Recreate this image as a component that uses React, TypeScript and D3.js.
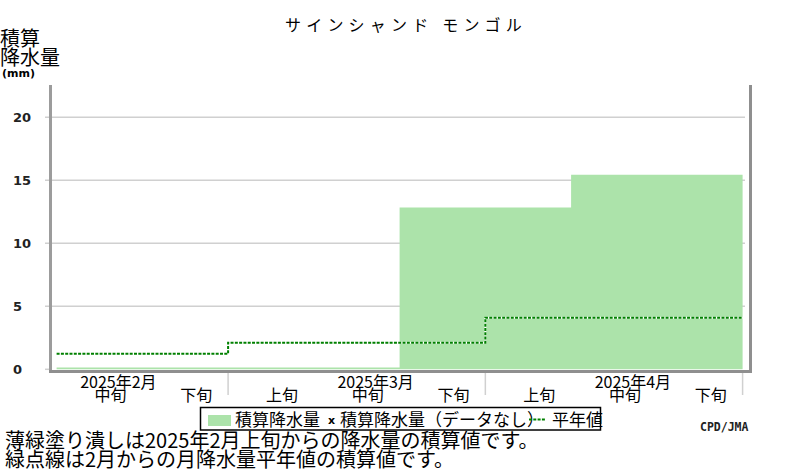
import * as d3 from 'd3';
import React from 'react';

// decade (旬) labels from 2025年2月中旬 to 2025年4月下旬
const decadeLabels = ['中旬', '下旬', '上旬', '中旬', '下旬', '上旬', '中旬', '下旬'];
const monthLabels = ['2025年2月', '2025年3月', '2025年4月'];
// index of the 中旬 decade for each month label
const monthMidIdx = [0, 3, 6];
// month boundaries (decade index)
const monthTicks = [2, 5, 8];

// accumulated precipitation (mm) per decade
const accumPrecip = [0.15, 0.15, 0.15, 0.15, 12.85, 12.85, 15.45, 15.45];

// accumulated monthly normal (mm): start decade index and value
const normalStart = [0, 2, 5];
const normalValue = [1.24, 2.11, 4.1];

const yTicks = [0, 5, 10, 15, 20];

const JP = '"Noto Sans CJK JP", "Noto Sans", sans-serif';

const App: React.FC = () => {
    const x = d3.scaleLinear().domain([0, 8]).range([56.6, 742.6]);
    const y = d3.scaleLinear().domain([0, 20]).range([369.3, 117.3]);
    const plotTop = 85;

    const areaPts: [number, number][] = accumPrecip.map((v, i) => [i, v] as [number, number]);
    areaPts.push([8, accumPrecip[accumPrecip.length - 1]]);
    const area = d3.area<[number, number]>()
        .curve(d3.curveStepAfter)
        .x(d => x(d[0]))
        .y0(y(0))
        .y1(d => y(d[1]));

    const normPts: [number, number][] = normalStart.map((s, i) => [s, normalValue[i]] as [number, number]);
    normPts.push([8, normalValue[normalValue.length - 1]]);
    const line = d3.line<[number, number]>()
        .curve(d3.curveStepAfter)
        .x(d => x(d[0]))
        .y(d => y(d[1]));

    return (
        <div style={{ position: 'absolute', left: 0, top: 0 }}>
            <svg width={800} height={470} style={{ display: 'block', background: '#fff' }}>
                {/* title */}
                <text x={285} y={31} fontFamily={JP} fontSize={16} letterSpacing={5.2}>
                    サインシャンド モンゴル
                </text>

                {/* y-axis label */}
                <text x={0} y={46} fontFamily={JP} fontSize={20}>積算</text>
                <text x={0} y={65} fontFamily={JP} fontSize={20}>降水量</text>
                <text x={2} y={77} fontFamily="DejaVu Sans" fontWeight="bold" fontSize={11}>(mm)</text>

                {/* grid */}
                {yTicks.map(t => (
                    <g key={t}>
                        <line x1={45} x2={t === 0 ? 50 : 745} y1={y(t)} y2={y(t)} stroke="#d0d0d0" strokeWidth={1.5} />
                        <text x={13} y={y(t) + 5} fontFamily="DejaVu Sans" fontWeight="bold" fontSize={13} fill="#222">
                            {t}
                        </text>
                    </g>
                ))}

                {/* accumulated precipitation */}
                <path d={area(areaPts) ?? ''} fill="#ace3aa" />

                {/* normal */}
                <path d={line(normPts) ?? ''} fill="none" stroke="#fff" strokeWidth={2} />
                <path d={line(normPts) ?? ''} fill="none" stroke="#008000" strokeWidth={2} strokeDasharray="3,1.3" />

                {/* frame */}
                <line x1={50.5} x2={50.5} y1={plotTop} y2={373} stroke="#9c9c9c" strokeWidth={3} />
                <line x1={750.5} x2={750.5} y1={plotTop} y2={373} stroke="#8f8f8f" strokeWidth={3} />
                <line x1={49} x2={752} y1={371.5} y2={371.5} stroke="#8f8f8f" strokeWidth={3} />

                {/* x ticks */}
                {monthTicks.map(m => (
                    <line key={m} x1={x(m)} x2={x(m)} y1={373} y2={395} stroke="#d0d0d0" strokeWidth={1.5} />
                ))}
                {monthLabels.map((m, i) => (
                    <text key={m} x={x(monthMidIdx[i] + 0.72)} y={388} textAnchor="middle" fontFamily={JP} fontSize={16}>
                        {m}
                    </text>
                ))}
                {decadeLabels.map((d, i) => (
                    <text key={i} x={x(i + 0.63)} y={401} textAnchor="middle" fontFamily={JP} fontSize={16}>
                        {d}
                    </text>
                ))}

                {/* legend */}
                <rect x={200.5} y={407.5} width={400} height={22.5} fill="#fff" stroke="#000" strokeWidth={1.5} />
                <rect x={208} y={415} width={23} height={11} fill="#ace3aa" />
                <text x={235} y={426} fontFamily={JP} fontSize={17}>積算降水量</text>
                <text x={328} y={424} fontFamily="DejaVu Sans" fontWeight="bold" fontSize={11}>x</text>
                <text x={340} y={426} fontFamily={JP} fontSize={17}>積算降水量（データなし）</text>
                <line x1={529} x2={545} y1={419.5} y2={419.5} stroke="#008000" strokeWidth={2} strokeDasharray="3,1.3" />
                <text x={552} y={426} fontFamily={JP} fontSize={17}>平年値</text>

                <text x={700} y={431} fontFamily="DejaVu Sans Mono" fontWeight="bold" fontSize={11.5} fill="#222">CPD/JMA</text>

                {/* notes */}
                <text x={5} y={448} fontFamily={JP} fontSize={20}>薄緑塗り潰しは2025年2月上旬からの降水量の積算値です。</text>
                <text x={5} y={467} fontFamily={JP} fontSize={20}>緑点線は2月からの月降水量平年値の積算値です。</text>
            </svg>
        </div>
    );
};

export default App;
